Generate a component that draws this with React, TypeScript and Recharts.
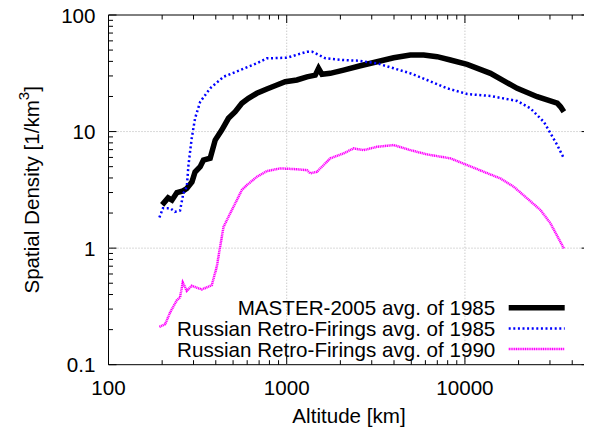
import React from 'react';
import { LineChart, Line, XAxis, YAxis, ReferenceLine, ReferenceArea, Legend } from 'recharts';

// ---- data (altitude km, spatial density 1/km^3) ----
const masterAlt = [200, 216, 227, 242, 262, 275, 294, 306, 327, 341, 372, 397, 432, 471, 514, 560, 610, 680, 774, 881, 981, 1141, 1299, 1446, 1509, 1577, 1755, 2085, 2588, 3211, 3981, 4940, 5868, 6980, 8290, 10290, 13910, 19640, 25440, 32960, 34400, 35900];
const masterDen = [2.35, 2.7, 2.58, 3.0, 3.1, 3.25, 3.7, 4.5, 5.0, 5.7, 5.9, 8.45, 10.3, 13.0, 14.8, 17.5, 19.3, 21.3, 23.2, 25.1, 26.8, 27.7, 29.5, 30.5, 34.9, 31.0, 31.6, 33.7, 36.7, 39.7, 43.0, 45.4, 45.4, 43.9, 41.1, 37.7, 31.6, 23.5, 19.9, 17.5, 16.3, 14.8];

const rus85Alt = [193, 202, 222, 236, 252, 263, 275, 281, 293, 306, 327, 372, 442, 548, 680, 774, 1003, 1299, 1391, 1652, 2050, 2544, 3211, 3981, 4940, 6132, 7943, 10290, 13910, 19640, 23330, 27720, 30210, 32960, 35900];
const rus85Den = [1.83, 2.2, 2.2, 2.05, 2.1, 2.95, 3.36, 5.16, 8.75, 13.0, 18.0, 23.5, 29.5, 33.7, 38.5, 42.5, 43.0, 48.4, 48.4, 42.5, 41.1, 40.5, 38.5, 34.9, 31.6, 27.7, 23.5, 21.0, 20.2, 18.3, 15.8, 12.1, 9.65, 7.66, 5.89];

const rus90Alt = [193, 208, 222, 242, 252, 261, 275, 293, 334, 380, 405, 423, 442, 482, 525, 560, 597, 680, 774, 919, 1092, 1299, 1355, 1478, 1755, 2085, 2373, 2701, 3211, 3981, 4940, 6132, 8290, 10290, 12750, 15830, 18790, 22360, 26550, 30210, 35900];
const rus90Den = [0.211, 0.223, 0.282, 0.358, 0.378, 0.508, 0.43, 0.475, 0.442, 0.481, 0.692, 1.026, 1.52, 1.99, 2.58, 3.15, 3.47, 4.09, 4.58, 4.83, 4.77, 4.67, 4.38, 4.52, 5.89, 6.5, 7.17, 6.93, 7.4, 7.66, 6.93, 6.37, 5.89, 5.16, 4.52, 3.96, 3.36, 2.67, 2.12, 1.63, 0.994];

const seriesNames = [
  'MASTER-2005 avg. of 1985',
  'Russian Retro-Firings avg. of 1985',
  'Russian Retro-Firings avg. of 1990',
];

const xMajor = [100, 1000, 10000];
const xTicks = [100, 200, 300, 400, 500, 600, 700, 800, 900, 1000, 2000, 3000, 4000, 5000, 6000, 7000, 8000, 9000, 10000, 20000, 30000, 40000, 50000];
const yMajor = [0.1, 1, 10, 100];
const yTicks = [0.1, 0.2, 0.3, 0.4, 0.5, 0.6, 0.7, 0.8, 0.9, 1, 2, 3, 4, 5, 6, 7, 8, 9, 10, 20, 30, 40, 50, 60, 70, 80, 90, 100];
const xTickLabels = ['100', '1000', '10000'];
const yTickLabels = ['0.1', '1', '10', '100'];
const xDomain = [100, 50000];
const yDomain = [0.1, 100];

const zip = (a: number[], b: number[]) => a.map((v, i) => ({ alt: v, den: b[i] }));
const masterData = zip(masterAlt, masterDen);
const rus85Data = zip(rus85Alt, rus85Den);
const rus90Data = zip(rus90Alt, rus90Den);

// ---- layout (chart sits at page offset 8,8) ----
const W = 584;
const H = 421;
const PT = 7;
const YW = 100.5;
const XH = 64.3;
const PR = 2.5;
const PB = H - XH;
const PL = YW;
const PRX = W - PR;
const FONT = '"Liberation Sans", Arial, Helvetica, sans-serif';
const FS = 20.6;

const XTick = (props: any) => {
  const { x, payload } = props;
  const v = payload.value;
  const mi = xMajor.indexOf(v);
  const len = mi >= 0 ? 8 : 4.5;
  return (
    <g>
      <line x1={x} x2={x} y1={PB} y2={PB - len} stroke="#000" strokeWidth={1} />
      <line x1={x} x2={x} y1={PT} y2={PT + len} stroke="#000" strokeWidth={1} />
      {mi >= 0 && (
        <text x={x} y={PB + 22.5} textAnchor="middle" dominantBaseline="central" fontFamily={FONT} fontSize={FS} fill="#000">
          {xTickLabels[mi]}
        </text>
      )}
    </g>
  );
};

const YTick = (props: any) => {
  const { y, payload } = props;
  const v = payload.value;
  const mi = yMajor.findIndex((m) => Math.abs(m - v) < 1e-9);
  const len = mi >= 0 ? 8 : 4.5;
  return (
    <g>
      <line x1={PL} x2={PL + len} y1={y} y2={y} stroke="#000" strokeWidth={1} />
      <line x1={PRX} x2={PRX - len} y1={y} y2={y} stroke="#000" strokeWidth={1} />
      {mi >= 0 && (
        <text x={PL - 13} y={y} textAnchor="end" dominantBaseline="central" fontFamily={FONT} fontSize={FS} fill="#000">
          {yTickLabels[mi]}
        </text>
      )}
    </g>
  );
};

const YLabel = () => (
  <text transform={`translate(23, ${(PT + PB) / 2}) rotate(-90)`} textAnchor="middle" dominantBaseline="central" fontFamily={FONT} fontSize={FS} fill="#000">
    <tspan>Spatial Density [1/km</tspan>
    <tspan dy={-8} fontSize={15}>3</tspan>
    <tspan dy={8}>]</tspan>
  </text>
);

const XLabel = () => (
  <text x={(PL + PRX) / 2} y={407} textAnchor="middle" dominantBaseline="central" fontFamily={FONT} fontSize={FS} fill="#000">
    Altitude [km]
  </text>
);

const LEG_LEFT = 162;
const LEG_TOP = 288;
const renderLegend = (props: any) => {
  const payload = props.payload || [];
  return (
    <svg width={420} height={66} style={{ overflow: 'visible' }}>
      {payload.map((e: any, i: number) => {
        const cy = 11.7 + i * 20.7;
        const p = e.payload || {};
        return (
          <g key={i}>
            <text x={487.3 - LEG_LEFT} y={cy} textAnchor="end" dominantBaseline="central" fontFamily={FONT} fontSize={FS} fill="#000">
              {e.value}
            </text>
            <line x1={500.7 - LEG_LEFT} x2={556.7 - LEG_LEFT} y1={cy} y2={cy} stroke={e.color} strokeWidth={p.strokeWidth} strokeDasharray={p.strokeDasharray} />
          </g>
        );
      })}
    </svg>
  );
};

export default function App() {
  return (
    <div>
      <style>{'.recharts-surface{overflow:visible}'}</style>
      <LineChart width={W} height={H} margin={{ top: PT, right: PR, left: 0, bottom: 0 }}>
        <XAxis
          dataKey="alt"
          type="number"
          scale="log"
          domain={xDomain}
          ticks={xTicks}
          allowDataOverflow
          height={XH}
          tickSize={0}
          tickMargin={0}
          axisLine={false}
          tickLine={false}
          tick={<XTick />}
          interval={0}
          label={{ content: () => <XLabel /> }}
        />
        <YAxis
          dataKey="den"
          type="number"
          scale="log"
          domain={yDomain}
          ticks={yTicks}
          allowDataOverflow
          width={YW}
          tickSize={0}
          tickMargin={0}
          axisLine={false}
          tickLine={false}
          tick={<YTick />}
          interval={0}
          label={{ content: () => <YLabel /> }}
        />
        <ReferenceLine x={1000} stroke="#b4b4b4" strokeDasharray="1 2" />
        <ReferenceLine x={10000} stroke="#b4b4b4" strokeDasharray="1 2" />
        <ReferenceLine y={10} stroke="#b4b4b4" strokeDasharray="1 2" />
        <ReferenceLine y={1} stroke="#b4b4b4" strokeDasharray="1 2" />
        <ReferenceArea x1={xDomain[0]} x2={xDomain[1]} y1={yDomain[0]} y2={yDomain[1]} fill="none" fillOpacity={0} stroke="#000" strokeWidth={1} strokeOpacity={1} />
        <Line data={masterData} dataKey="den" name={seriesNames[0]} stroke="#000000" strokeWidth={5.5} dot={false} isAnimationActive={false} type="linear" />
        <Line data={rus85Data} dataKey="den" name={seriesNames[1]} stroke="#0000ff" strokeWidth={2.5} strokeDasharray="2 2.6" dot={false} isAnimationActive={false} type="linear" />
        <Line data={rus90Data} dataKey="den" name={seriesNames[2]} stroke="#ff00ff" strokeWidth={2.5} strokeDasharray="1.2 0.6" dot={false} isAnimationActive={false} type="linear" />
        <Legend
          layout="vertical"
          align="center"
          verticalAlign="middle"
          content={renderLegend}
          wrapperStyle={{ position: 'absolute', left: LEG_LEFT, top: LEG_TOP, width: 420, height: 66 }}
        />
      </LineChart>
    </div>
  );
}
